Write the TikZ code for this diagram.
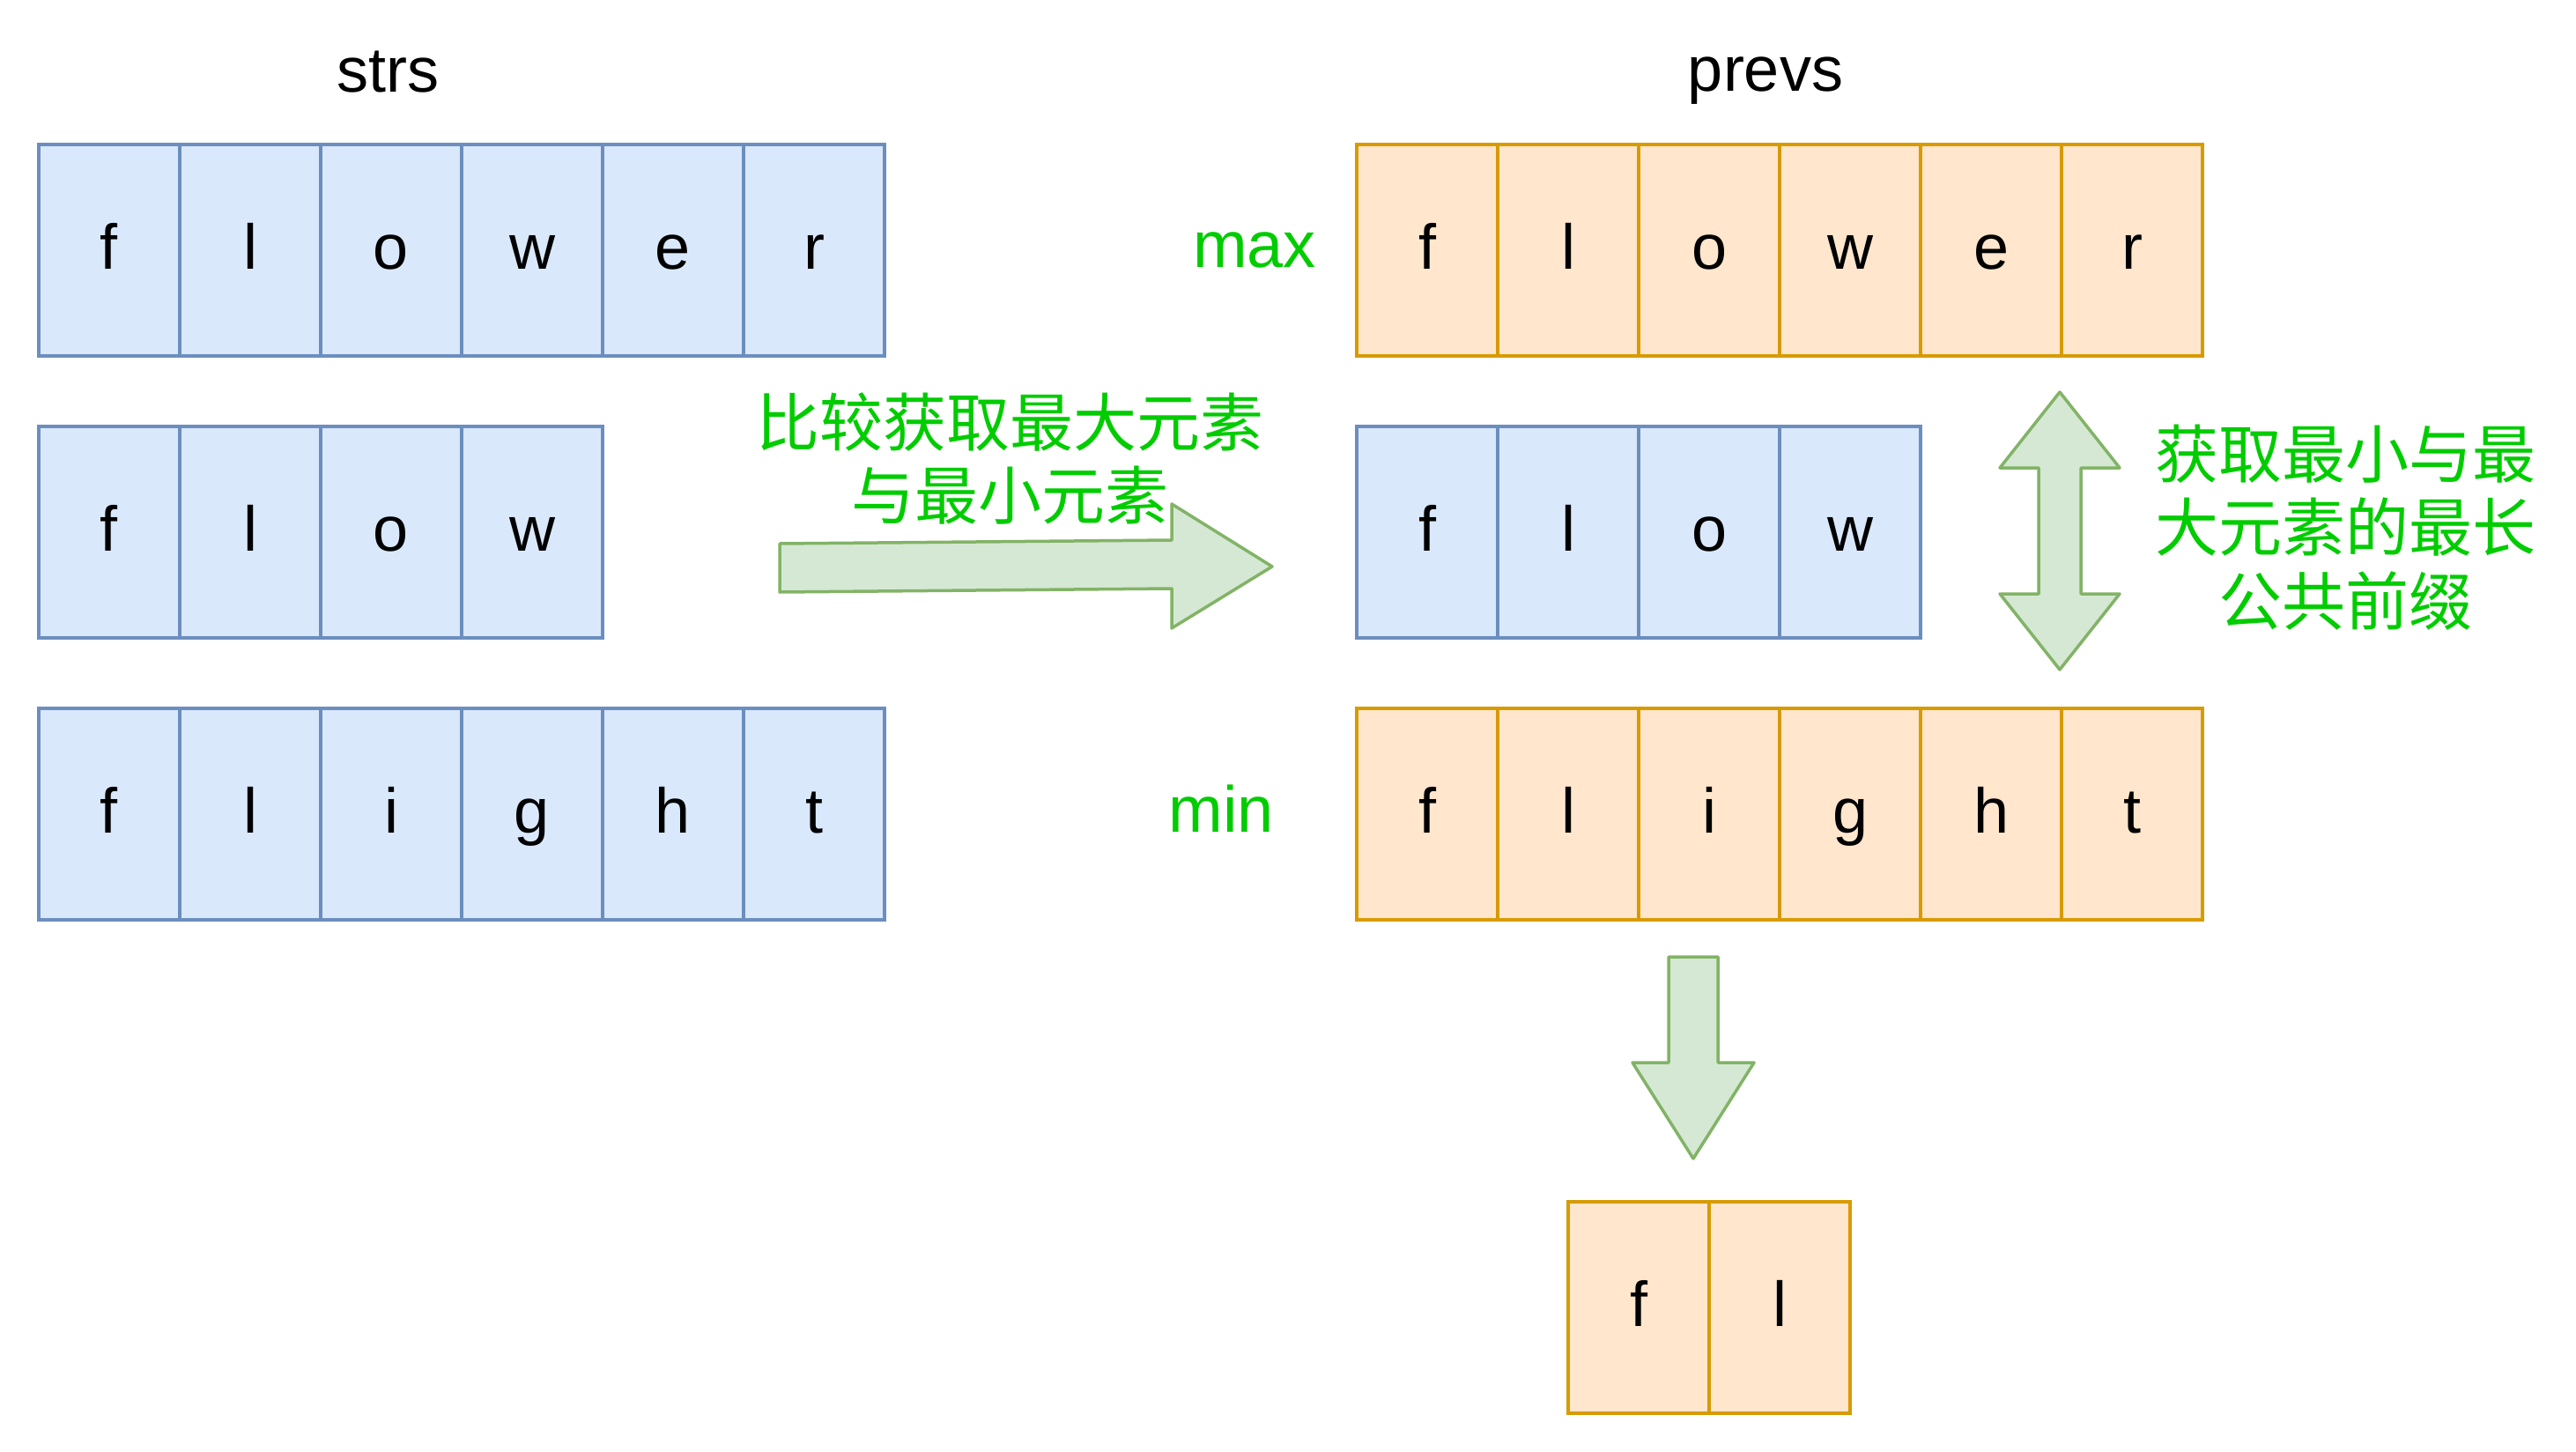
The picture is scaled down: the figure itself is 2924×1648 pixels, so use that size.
\documentclass[tikz,border=0pt]{standalone}
\usepackage{fontspec}
\setmainfont{Liberation Sans}
\newfontfamily\cjk{Noto Sans CJK SC}
\definecolor{bfill}{HTML}{DAE8FC}
\definecolor{bline}{HTML}{6C8EBF}
\definecolor{ofill}{HTML}{FFE6CC}
\definecolor{oline}{HTML}{D79B00}
\definecolor{afill}{HTML}{D5E8D4}
\definecolor{aline}{HTML}{82B366}
\definecolor{lbl}{HTML}{00CC00}
\tikzset{
  cellbase/.style={line width=2pt, minimum width=80pt, minimum height=120pt,
    inner sep=0pt, anchor=north west, font=\fontsize{36}{43}\selectfont,
    text height=28.8pt, text depth=7.2pt},
  bcell/.style={cellbase, draw=bline, fill=bfill},
  ocell/.style={cellbase, draw=oline, fill=ofill},
  title/.style={anchor=base, inner sep=0pt, font=\fontsize{36}{43}\selectfont},
  glabel/.style={anchor=base, inner sep=0pt, text=lbl, font=\fontsize{37}{44}\selectfont},
  cjklabel/.style={anchor=base, inner sep=0pt, text=lbl, font=\cjk\fontsize{36}{42}\selectfont},
  blockarrow/.style={draw=aline, fill=afill, line width=1.75pt, line join=round}
}
\begin{document}
\begin{tikzpicture}[x=0.5pt,y=-0.5pt]
\useasboundingbox (0,0) rectangle (2924,1648);
% titles
\node[title] (strs) at (440,105) {strs};
\node[title] (prevs) at (2004,104) {prevs};
% strs rows
\foreach \ch [count=\i] in {f,l,o,w,e,r}
  \node[bcell] (sa\i) at ({42+(\i-1)*160},162) {\ch};
\foreach \ch [count=\i] in {f,l,o,w}
  \node[bcell] (sb\i) at ({42+(\i-1)*160},482) {\ch};
\foreach \ch [count=\i] in {f,l,i,g,h,t}
  \node[bcell] (sc\i) at ({42+(\i-1)*160},802) {\ch};
% prevs rows
\foreach \ch [count=\i] in {f,l,o,w,e,r}
  \node[ocell] (pa\i) at ({1538+(\i-1)*160},162) {\ch};
\foreach \ch [count=\i] in {f,l,o,w}
  \node[bcell] (pb\i) at ({1538+(\i-1)*160},482) {\ch};
\foreach \ch [count=\i] in {f,l,i,g,h,t}
  \node[ocell] (pc\i) at ({1538+(\i-1)*160},802) {\ch};
% result
\foreach \ch [count=\i] in {f,l}
  \node[ocell] (r\i) at ({1778+(\i-1)*160},1362) {\ch};
% labels
\node[glabel] (maxl) at (1424,304) {max};
\node[glabel] (minl) at (1386,944) {min};
\node[cjklabel] (cmpa) at (1146,506) {比较获取最大元素};
\node[cjklabel] (cmpb) at (1146,589) {与最小元素};
\node[cjklabel] (lcpa) at (2662,542) {获取最小与最};
\node[cjklabel] (lcpb) at (2662,625) {大元素的最长};
\node[cjklabel] (lcpc) at (2662,709) {公共前缀};
% block arrows
\draw[blockarrow] (885,617) -- (1330,613) -- (1330,572) -- (1444,643) -- (1330,713)
  -- (1330,668) -- (885,672) -- cycle;
\draw[blockarrow] (2338,445) -- (2406,531) -- (2362,531) -- (2362,674) -- (2406,674)
  -- (2338,760) -- (2270,674) -- (2314,674) -- (2314,531) -- (2270,531) -- cycle;
\draw[blockarrow] (1894,1086) -- (1950,1086) -- (1950,1206) -- (1991,1206) -- (1922,1315)
  -- (1853,1206) -- (1894,1206) -- cycle;
\end{tikzpicture}
\end{document}
